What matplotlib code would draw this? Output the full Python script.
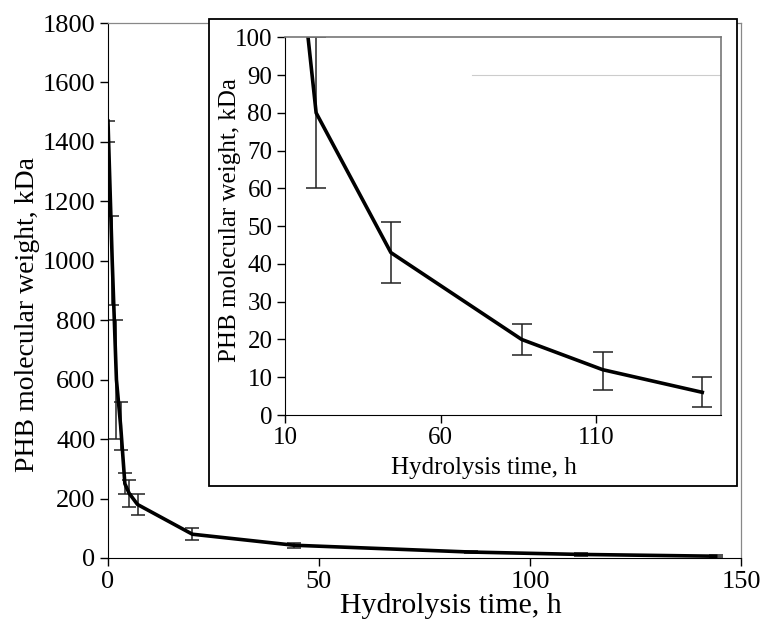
import matplotlib
matplotlib.use('Agg')
import matplotlib.pyplot as plt
from matplotlib.patches import Rectangle

# Hydrolysis data
times = [0, 1, 2, 3, 4, 5, 7, 20, 44, 86, 112, 144]
mw_kda = [1470, 1000, 600, 445, 250, 218, 180, 80, 43, 20, 12, 6]
err_low = [70, 150, 200, 80, 36, 45, 34, 20, 8, 4, 5.5, 4]
err_high = [0, 150, 200, 80, 36, 45, 34, 20, 8, 4, 4.6, 4]

main_xticks = [0, 50, 100, 150]
main_yticks = list(range(0, 1801, 200))
inset_xticks = [10, 60, 110]
inset_yticks = list(range(0, 101, 10))

xlabel = 'Hydrolysis time, h'
ylabel = 'PHB molecular weight, kDa'

plt.rcParams['font.family'] = ['Liberation Serif', 'DejaVu Serif']

fig = plt.figure(figsize=(7.61, 6.25), dpi=100)

# main axes
ax = fig.add_axes([0.1419, 0.1072, 0.8318, 0.856])
ax.errorbar(times, mw_kda, yerr=[err_low, err_high], color='black', lw=2.6,
            ecolor='#222222', elinewidth=1.1, capsize=5, capthick=1.1)
ax.set_xlim(0, 150)
ax.set_ylim(0, 1800)
ax.set_xticks(main_xticks)
ax.set_yticks(main_yticks)
ax.tick_params(direction='out', length=6, width=1, labelsize=19, pad=3)
for s in ['top', 'right']:
    ax.spines[s].set_color('#888888')
    ax.spines[s].set_linewidth(0.9)
ax.set_xlabel(xlabel, fontsize=21.5)
ax.xaxis.set_label_coords(0.542, -0.0655)
ax.set_ylabel(ylabel, fontsize=20)
ax.yaxis.set_label_coords(-0.107, 0.456)

# white box behind the inset
box = Rectangle((0.2746, 0.2224), 0.6939, 0.7472, transform=fig.transFigure,
                facecolor='white', edgecolor='black', lw=1.3, zorder=5)
fig.add_artist(box)

# inset axes
ax2 = fig.add_axes([0.3745, 0.336, 0.5729, 0.6043])
ax2.set_zorder(6)
ax2.axhline(90, xmin=(70 - 10) / 140, color='#cccccc', lw=0.8)
ax2.errorbar(times, mw_kda, yerr=[err_low, err_high], color='black', lw=2.6,
             ecolor='#222222', elinewidth=1.1, capsize=7, capthick=1.1)
ax2.set_xlim(10, 150)
ax2.set_ylim(0, 100)
ax2.set_xticks(inset_xticks)
ax2.set_yticks(inset_yticks)
ax2.tick_params(direction='out', length=6, width=1, labelsize=18, pad=3)
for s in ['top', 'right']:
    ax2.spines[s].set_color('#777777')
    ax2.spines[s].set_linewidth(1.2)
ax2.set_xlabel(xlabel, fontsize=18)
ax2.xaxis.set_label_coords(0.456, -0.11)
ax2.set_ylabel(ylabel, fontsize=18)
ax2.yaxis.set_label_coords(-0.1, 0.516)

fig.savefig('out.png', dpi=100)
